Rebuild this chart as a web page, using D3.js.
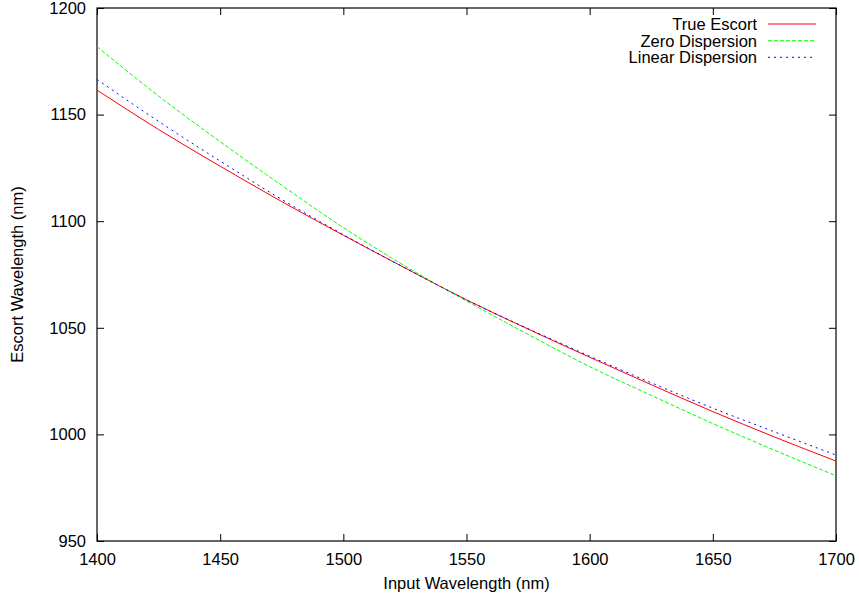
<!DOCTYPE html>
<html>
<head>
<meta charset="utf-8">
<script src="https://cdn.jsdelivr.net/npm/d3@7"></script>
<style>
  html, body { margin: 0; padding: 0; background: #ffffff; }
  svg { display: block; }
  text { font-family: "Liberation Sans", Arial, Helvetica, sans-serif; fill: #000; }
</style>
</head>
<body>
<svg id="chart" width="859" height="599"></svg>
<script>
// Input wavelengths (nm)
const inputWavelength = [1400, 1425, 1450, 1475, 1500, 1525, 1550, 1575, 1600, 1625, 1650, 1675, 1700];
// Escort wavelength (nm) for each model
const trueEscort       = [1161.5, 1143.0, 1125.8, 1109.2, 1093.4, 1078.1, 1063.1, 1049.4, 1036.2, 1023.3, 1010.7, 998.8, 987.5];
const zeroDispersion   = [1181.9, 1158.7, 1137.3, 1116.8, 1097.0, 1079.0, 1062.6, 1046.9, 1031.8, 1018.3, 1005.1, 992.6, 980.6];
const linearDispersion = [1166.5, 1146.8, 1128.2, 1110.2, 1093.7, 1078.1, 1063.1, 1049.6, 1036.7, 1024.2, 1012.3, 1001.2, 990.3];

const xTicks = [1400, 1450, 1500, 1550, 1600, 1650, 1700];
const yTicks = [950, 1000, 1050, 1100, 1150, 1200];

const seriesNames  = ["True Escort", "Zero Dispersion", "Linear Dispersion"];
const seriesValues = [trueEscort, zeroDispersion, linearDispersion];
const seriesColors = ["#ff0000", "#00ff00", "#0000ff"];
const seriesDashes = [null, "4,2", "2,4"];

const fontSize = 16.5;

const svg = d3.select("#chart");
const plotLeft = 97, plotRight = 836, plotTop = 8, plotBottom = 541;

const x = d3.scaleLinear().domain([1400, 1700]).range([plotLeft, plotRight]);
const y = d3.scaleLinear().domain([950, 1200]).range([plotBottom, plotTop]);

const tickLen = 7;

// Axes with inward ticks, mirrored on top and right
const g = svg.append("g");
const axisStyle = sel => {
  sel.select(".domain").remove();
  sel.selectAll(".tick line").attr("stroke", "#000").attr("stroke-width", 1);
};

g.append("g").attr("transform", `translate(0,${plotBottom})`)
  .call(d3.axisBottom(x).tickValues(xTicks).tickSize(-tickLen).tickPadding(12).tickFormat(d3.format("d")))
  .call(axisStyle)
  .selectAll("text").attr("font-size", fontSize).attr("font-family", "Liberation Sans, Arial, sans-serif");

g.append("g").attr("transform", `translate(0,${plotTop})`)
  .call(d3.axisTop(x).tickValues(xTicks).tickSize(-tickLen).tickFormat(""))
  .call(axisStyle);

g.append("g").attr("transform", `translate(${plotLeft},0)`)
  .call(d3.axisLeft(y).tickValues(yTicks).tickSize(-tickLen).tickPadding(11).tickFormat(d3.format("d")))
  .call(axisStyle)
  .selectAll("text").attr("font-size", fontSize).attr("font-family", "Liberation Sans, Arial, sans-serif");

g.append("g").attr("transform", `translate(${plotRight},0)`)
  .call(d3.axisRight(y).tickValues(yTicks).tickSize(-tickLen).tickFormat(""))
  .call(axisStyle);

// Plot frame
svg.append("rect")
  .attr("x", plotLeft).attr("y", plotTop)
  .attr("width", plotRight - plotLeft).attr("height", plotBottom - plotTop)
  .attr("fill", "none").attr("stroke", "#000").attr("stroke-width", 1.2);

// Curves
const line = d3.line()
  .x((d, i) => x(inputWavelength[i]))
  .y(d => y(d))
  .curve(d3.curveMonotoneX);

seriesValues.forEach((vals, k) => {
  svg.append("path")
    .datum(vals)
    .attr("d", line)
    .attr("fill", "none")
    .attr("stroke", seriesColors[k])
    .attr("stroke-width", 1)
    .attr("stroke-dasharray", seriesDashes[k]);
});

// Legend
const legendTextX = 757, legendLineX1 = 768, legendLineX2 = 816;
const legendRows = [24, 40.7, 57.3];
seriesNames.forEach((name, k) => {
  svg.append("text")
    .attr("x", legendTextX).attr("y", legendRows[k] + 6)
    .attr("text-anchor", "end")
    .attr("font-size", fontSize)
    .text(name);
  svg.append("line")
    .attr("x1", legendLineX1).attr("x2", legendLineX2)
    .attr("y1", legendRows[k]).attr("y2", legendRows[k])
    .attr("stroke", seriesColors[k])
    .attr("stroke-width", 1)
    .attr("stroke-dasharray", seriesDashes[k]);
});

// Axis titles
svg.append("text")
  .attr("x", (plotLeft + plotRight) / 2).attr("y", 589)
  .attr("text-anchor", "middle").attr("font-size", fontSize)
  .text("Input Wavelength (nm)");

svg.append("text")
  .attr("transform", `translate(23,${(plotTop + plotBottom) / 2}) rotate(-90)`)
  .attr("text-anchor", "middle").attr("font-size", fontSize)
  .text("Escort Wavelength (nm)");
</script>
</body>
</html>
